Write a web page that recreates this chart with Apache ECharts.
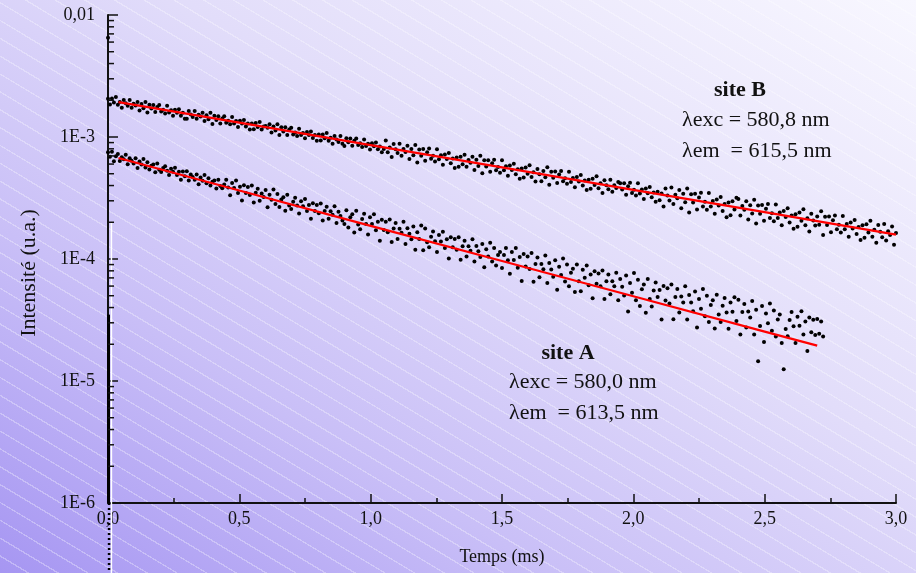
<!DOCTYPE html>
<html><head><meta charset="utf-8">
<script src="https://cdn.jsdelivr.net/npm/echarts@6/dist/echarts.min.js"></script>
<style>
html,body{margin:0;padding:0;width:916px;height:573px;overflow:hidden;}
body{background:
 repeating-linear-gradient(31deg, rgba(255,255,255,0) 0px, rgba(255,255,255,0) 14px, rgba(255,255,255,0.3) 14px, rgba(255,255,255,0.3) 15.3px),
 linear-gradient(to bottom left, #f8f7ff 0%, #e2ddfa 40%, #c9bff7 70%, #a696f2 100%);}
#chart{width:916px;height:573px;}
</style></head>
<body><div id="chart"></div>
<script>
// sampling step of the decays (ms)
const DT = 0.0075;
// site B intensities, t = 0, DT, 2DT ... 3.0 ms
const siteB = [
2.06e-3,1.85e-3,2.07e-3,1.92e-3,2.13e-3,1.84e-3,1.94e-3,1.74e-3,2.01e-3,1.89e-3,1.80e-3,2.01e-3,1.74e-3,1.87e-3,1.81e-3,1.94e-3,1.65e-3,1.86e-3,1.72e-3,1.94e-3,
1.59e-3,1.84e-3,1.71e-3,1.83e-3,1.60e-3,1.76e-3,1.83e-3,1.62e-3,1.67e-3,1.56e-3,1.80e-3,1.59e-3,1.66e-3,1.49e-3,1.67e-3,1.58e-3,1.69e-3,1.49e-3,1.58e-3,1.41e-3,
1.41e-3,1.63e-3,1.53e-3,1.46e-3,1.63e-3,1.41e-3,1.52e-3,1.47e-3,1.58e-3,1.35e-3,1.51e-3,1.40e-3,1.58e-3,1.28e-3,1.49e-3,1.38e-3,1.48e-3,1.29e-3,1.42e-3,1.48e-3,
1.31e-3,1.36e-3,1.27e-3,1.46e-3,1.29e-3,1.35e-3,1.21e-3,1.36e-3,1.29e-3,1.38e-3,1.22e-3,1.29e-3,1.15e-3,1.29e-3,1.16e-3,1.30e-3,1.21e-3,1.33e-3,1.15e-3,1.22e-3,
1.23e-3,1.19e-3,1.27e-3,1.09e-3,1.22e-3,1.13e-3,1.27e-3,1.04e-3,1.20e-3,1.11e-3,1.20e-3,1.04e-3,1.15e-3,1.19e-3,1.05e-3,1.09e-3,1.02e-3,1.17e-3,1.04e-3,1.08e-3,
9.77e-4,1.10e-3,1.04e-3,1.11e-3,9.83e-4,1.04e-3,9.30e-4,1.05e-3,9.37e-4,1.05e-3,9.75e-4,1.08e-3,9.33e-4,9.85e-4,8.81e-4,1.02e-3,9.55e-4,9.10e-4,1.02e-3,8.79e-4,
8.42e-4,9.75e-4,9.05e-4,9.72e-4,8.47e-4,9.33e-4,9.72e-4,8.58e-4,8.88e-4,8.29e-4,9.55e-4,8.44e-4,8.81e-4,7.89e-4,8.87e-4,8.39e-4,9.00e-4,7.93e-4,8.37e-4,7.49e-4,
7.98e-4,9.37e-4,7.49e-4,8.21e-4,6.87e-4,8.75e-4,7.93e-4,7.38e-4,8.82e-4,7.02e-4,7.97e-4,7.55e-4,8.47e-4,6.59e-4,7.99e-4,7.10e-4,8.60e-4,6.18e-4,7.89e-4,7.02e-4,
7.96e-4,6.40e-4,7.51e-4,8.03e-4,6.63e-4,7.03e-4,6.31e-4,7.94e-4,6.56e-4,7.07e-4,5.93e-4,7.18e-4,6.60e-4,7.41e-4,6.09e-4,6.68e-4,5.58e-4,6.79e-4,5.71e-4,6.90e-4,
5.99e-4,7.17e-4,5.71e-4,6.48e-4,6.14e-4,6.89e-4,5.37e-4,6.51e-4,5.79e-4,7.01e-4,5.04e-4,6.44e-4,5.73e-4,6.44e-4,5.19e-4,6.08e-4,6.50e-4,5.35e-4,5.68e-4,5.10e-4,
6.45e-4,5.33e-4,5.75e-4,4.82e-4,5.85e-4,5.37e-4,6.03e-4,4.96e-4,5.44e-4,4.55e-4,5.53e-4,4.65e-4,5.63e-4,5.00e-4,5.88e-4,4.69e-4,5.14e-4,4.31e-4,5.47e-4,4.96e-4,
4.33e-4,5.26e-4,4.67e-4,5.66e-4,4.07e-4,5.19e-4,4.63e-4,5.21e-4,4.19e-4,4.92e-4,5.26e-4,4.33e-4,4.60e-4,4.13e-4,5.19e-4,4.28e-4,4.61e-4,3.87e-4,4.69e-4,4.31e-4,
4.87e-4,4.00e-4,4.39e-4,3.68e-4,4.47e-4,3.77e-4,4.55e-4,4.05e-4,4.76e-4,3.80e-4,4.17e-4,3.48e-4,4.43e-4,4.02e-4,3.73e-4,4.47e-4,3.55e-4,4.03e-4,3.82e-4,4.28e-4,
4.17e-4,3.72e-4,4.18e-4,3.37e-4,3.94e-4,4.22e-4,3.48e-4,3.69e-4,3.32e-4,4.17e-4,3.45e-4,3.72e-4,3.11e-4,3.78e-4,3.46e-4,3.89e-4,3.20e-4,3.51e-4,2.94e-4,3.56e-4,
3.03e-4,3.45e-4,2.69e-4,3.78e-4,3.32e-4,3.01e-4,3.85e-4,2.82e-4,3.37e-4,3.14e-4,3.68e-4,2.61e-4,3.43e-4,2.92e-4,3.79e-4,2.40e-4,3.40e-4,2.91e-4,3.42e-4,2.54e-4,
3.19e-4,3.49e-4,2.69e-4,2.94e-4,2.53e-4,3.47e-4,2.69e-4,2.99e-4,2.35e-4,3.08e-4,2.75e-4,3.22e-4,2.47e-4,2.82e-4,2.20e-4,2.90e-4,2.28e-4,2.97e-4,2.55e-4,3.17e-4,
3.10e-4,2.27e-4,2.72e-4,2.53e-4,2.98e-4,2.11e-4,2.76e-4,2.36e-4,3.06e-4,1.95e-4,2.75e-4,2.35e-4,2.77e-4,2.06e-4,2.58e-4,2.82e-4,2.17e-4,2.37e-4,2.04e-4,2.80e-4,
2.17e-4,2.41e-4,1.89e-4,2.48e-4,2.21e-4,2.60e-4,1.99e-4,2.27e-4,1.77e-4,2.33e-4,1.84e-4,2.41e-4,2.06e-4,2.56e-4,1.89e-4,2.16e-4,1.68e-4,2.35e-4,2.07e-4,1.88e-4,
2.23e-4,1.91e-4,2.46e-4,1.57e-4,2.22e-4,1.90e-4,2.23e-4,1.66e-4,2.08e-4,2.27e-4,1.75e-4,1.91e-4,1.65e-4,2.25e-4,1.75e-4,1.94e-4,1.52e-4,1.99e-4,1.78e-4,2.09e-4,
1.60e-4,1.83e-4,1.43e-4,1.89e-4,1.49e-4,1.93e-4,1.65e-4,2.06e-4,1.52e-4,1.74e-4,1.36e-4,1.90e-4,1.67e-4,1.51e-4,1.94e-4,1.42e-4,1.69e-4,1.57e-4,1.85e-4,1.31e-4,
1.63e-4
];
// site A intensities, t = 0, DT, 2DT ... 2.7225 ms
const siteA = [
7.51e-4,6.88e-4,7.58e-4,6.33e-4,6.96e-4,7.24e-4,6.35e-4,6.83e-4,6.56e-4,7.16e-4,5.99e-4,6.70e-4,6.38e-4,6.06e-4,6.69e-4,5.56e-4,6.30e-4,5.94e-4,6.59e-4,5.63e-4,
6.22e-4,5.41e-4,5.82e-4,5.94e-4,5.15e-4,6.06e-4,5.38e-4,5.17e-4,5.56e-4,5.77e-4,5.29e-4,4.87e-4,5.50e-4,5.18e-4,5.59e-4,4.88e-4,5.18e-4,4.47e-4,5.22e-4,4.77e-4,
5.25e-4,4.40e-4,4.92e-4,4.69e-4,4.46e-4,4.92e-4,4.10e-4,4.66e-4,4.38e-4,4.87e-4,4.17e-4,4.60e-4,4.00e-4,4.30e-4,4.39e-4,3.79e-4,4.46e-4,3.97e-4,3.80e-4,4.08e-4,
4.46e-4,3.85e-4,3.33e-4,4.20e-4,3.82e-4,4.39e-4,3.48e-4,3.91e-4,3.02e-4,4.03e-4,3.48e-4,3.89e-4,3.35e-4,4.00e-4,2.90e-4,3.49e-4,3.76e-4,3.00e-4,3.44e-4,3.23e-4,
3.67e-4,2.65e-4,3.37e-4,3.06e-4,3.71e-4,2.83e-4,3.41e-4,2.67e-4,3.07e-4,3.21e-4,2.49e-4,3.36e-4,2.75e-4,2.57e-4,2.95e-4,3.18e-4,2.74e-4,2.36e-4,2.98e-4,2.70e-4,
3.11e-4,2.47e-4,2.77e-4,2.14e-4,2.86e-4,2.47e-4,2.77e-4,2.37e-4,2.85e-4,2.07e-4,2.48e-4,2.68e-4,2.14e-4,2.46e-4,2.31e-4,2.70e-4,1.97e-4,2.44e-4,2.25e-4,2.07e-4,
1.94e-4,2.51e-4,1.81e-4,2.20e-4,2.33e-4,1.65e-4,2.49e-4,1.92e-4,1.75e-4,2.13e-4,2.35e-4,1.94e-4,1.59e-4,2.20e-4,1.94e-4,2.33e-4,1.72e-4,2.02e-4,1.41e-4,2.10e-4,
1.73e-4,2.02e-4,1.66e-4,2.11e-4,1.38e-4,1.78e-4,1.97e-4,1.46e-4,1.77e-4,1.64e-4,2.02e-4,1.33e-4,1.79e-4,1.61e-4,1.45e-4,1.85e-4,1.19e-4,1.66e-4,1.46e-4,1.88e-4,
1.18e-4,1.78e-4,1.37e-4,1.25e-4,1.52e-4,1.68e-4,1.40e-4,1.14e-4,1.57e-4,1.39e-4,1.67e-4,1.23e-4,1.45e-4,1.01e-4,1.51e-4,1.25e-4,1.46e-4,1.19e-4,1.51e-4,9.88e-5,
1.27e-4,1.41e-4,1.05e-4,1.27e-4,1.17e-4,1.45e-4,9.53e-5,1.28e-4,1.16e-4,1.04e-4,1.33e-4,8.56e-5,1.20e-4,1.05e-4,1.36e-4,9.53e-5,1.23e-4,8.84e-5,1.08e-4,1.14e-4,
8.45e-5,1.08e-4,1.23e-4,9.75e-5,7.57e-5,1.14e-4,9.79e-5,1.23e-4,8.46e-5,1.04e-4,6.61e-5,1.10e-4,8.70e-5,1.05e-4,8.27e-5,1.12e-4,6.50e-5,9.08e-5,1.03e-4,7.09e-5,
9.08e-5,8.25e-5,1.07e-4,6.35e-5,9.27e-5,8.21e-5,7.16e-5,9.76e-5,5.60e-5,8.64e-5,7.38e-5,1.01e-4,6.55e-5,9.02e-5,5.98e-5,7.73e-5,8.31e-5,5.37e-5,9.03e-5,6.56e-5,
5.43e-5,8.15e-5,7.03e-5,8.85e-5,6.09e-5,7.48e-5,4.76e-5,7.95e-5,6.28e-5,7.61e-5,5.97e-5,8.06e-5,4.71e-5,6.58e-5,7.47e-5,5.14e-5,6.58e-5,5.97e-5,7.73e-5,4.58e-5,
6.84e-5,5.93e-5,5.03e-5,7.31e-5,3.71e-5,6.36e-5,5.28e-5,7.67e-5,4.59e-5,6.75e-5,4.11e-5,5.65e-5,6.18e-5,3.62e-5,6.84e-5,4.69e-5,4.08e-5,5.53e-5,6.41e-5,4.89e-5,
5.57e-5,3.19e-5,6.02e-5,4.56e-5,5.75e-5,4.31e-5,6.17e-5,3.21e-5,4.88e-5,5.69e-5,3.64e-5,4.93e-5,4.40e-5,5.98e-5,3.19e-5,5.08e-5,4.40e-5,3.73e-5,5.41e-5,2.74e-5,
4.70e-5,3.91e-5,5.68e-5,3.39e-5,5.00e-5,3.05e-5,4.20e-5,4.59e-5,2.69e-5,5.09e-5,3.50e-5,3.05e-5,4.13e-5,4.78e-5,3.65e-5,2.68e-5,4.39e-5,3.69e-5,4.85e-5,3.11e-5,
4.64e-5,2.41e-5,3.68e-5,4.28e-5,2.74e-5,3.72e-5,3.32e-5,4.53e-5,2.41e-5,3.84e-5,1.45e-5,2.83e-5,4.11e-5,2.09e-5,3.58e-5,2.97e-5,4.32e-5,2.58e-5,3.79e-5,2.32e-5,
3.19e-5,3.50e-5,2.05e-5,1.25e-5,2.67e-5,2.33e-5,3.16e-5,3.67e-5,2.81e-5,2.05e-5,3.37e-5,2.84e-5,3.73e-5,2.40e-5,3.08e-5,1.76e-5,3.32e-5,2.51e-5,3.17e-5,2.38e-5,
3.22e-5,2.44e-5,3.08e-5,2.32e-5
];
// exponential fits (red)
const fitB = [[0.04,1.93e-3],[0.5,1.31e-3],[1.0,8.59e-4],[1.5,5.63e-4],[2.0,3.69e-4],[2.5,2.42e-4],[3.0,1.585e-4]];
const fitA = [[0.04,6.72e-4],[0.5,3.64e-4],[1.0,1.87e-4],[1.5,9.62e-5],[2.0,4.95e-5],[2.5,2.54e-5],[2.7,1.95e-5]];
// excitation pulse artefact at t = 0
const pulsePoint = [[0, 6.5e-3]];
const pulseBlack = [[0.002, 3.5e-5],[0.002, 1e-6]];
const pulseDots = [[0.004, 1e-6],[0.004, 2.6e-7]];
const pulseWhite = [[0.013, 2.0e-4],[0.013, 2.6e-7]];
// axes
const yTickLabels = {'-6':'1E-6','-5':'1E-5','-4':'1E-4','-3':'1E-3','-2':'0,01'};
const yMinorTicks = [2e-6,3e-6,4e-6,5e-6,6e-6,7e-6,8e-6,9e-6,2e-5,3e-5,4e-5,5e-5,6e-5,7e-5,8e-5,9e-5,
  2e-4,3e-4,4e-4,5e-4,6e-4,7e-4,8e-4,9e-4,2e-3,3e-3,4e-3,5e-3,6e-3,7e-3,8e-3,9e-3];

const FONT = "'Liberation Serif','Times New Roman',serif";
const toPairs = arr => arr.map((v,i)=>[+(i*DT).toFixed(4), v]);

const chart = echarts.init(document.getElementById('chart'), null, {renderer:'canvas'});
const axisCol = '#111';
const dotStyle = {color:'#000', opacity:1};
chart.setOption({
  backgroundColor: 'transparent',
  animation: false,
  grid: {left:108, right:20, top:15, bottom:70, outerBoundsMode:'none'},
  xAxis: {
    type:'value', min:0, max:3, interval:0.5,
    axisLine:{show:true, onZero:false, lineStyle:{color:axisCol, width:2}},
    axisTick:{show:true, inside:true, length:9, lineStyle:{color:axisCol, width:1.5}},
    minorTick:{show:true, splitNumber:2, length:5, lineStyle:{color:axisCol, width:1.5}},
    splitLine:{show:false},
    axisLabel:{color:'#111', fontFamily:FONT, fontSize:18, margin:7,
      formatter: v => v.toFixed(1).replace('.', ',')},
    name:'Temps (ms)', nameLocation:'middle', nameGap:45,
    nameTextStyle:{color:'#111', fontFamily:FONT, fontSize:18}
  },
  yAxis: {
    type:'log', logBase:10, min:1e-6, max:1e-2,
    axisLine:{show:true, lineStyle:{color:axisCol, width:2}},
    axisTick:{show:true, inside:true, length:10, lineStyle:{color:axisCol, width:1.5}},
    splitLine:{show:false},
    axisLabel:{color:'#111', fontFamily:FONT, fontSize:18, margin:13,
      formatter: v => yTickLabels[String(Math.round(Math.log10(v)))] || ''}
  },
  graphic: [
    {type:'text', x:29, y:273, rotation:Math.PI/2, style:{text:'Intensité (u.a.)', font:'22px '+FONT, fill:'#111', align:'center', verticalAlign:'middle'}},
    {type:'text', x:740, y:90, style:{text:'site B', font:'bold 22px '+FONT, fill:'#111', align:'center', verticalAlign:'middle'}},
    {type:'text', x:682, y:120, style:{text:'λexc = 580,8 nm', font:'22px '+FONT, fill:'#111', align:'left', verticalAlign:'middle'}},
    {type:'text', x:682, y:151, style:{text:'λem  = 615,5 nm', font:'22px '+FONT, fill:'#111', align:'left', verticalAlign:'middle'}},
    {type:'text', x:568, y:353, style:{text:'site A', font:'bold 22px '+FONT, fill:'#111', align:'center', verticalAlign:'middle'}},
    {type:'text', x:509, y:382, style:{text:'λexc = 580,0 nm', font:'22px '+FONT, fill:'#111', align:'left', verticalAlign:'middle'}},
    {type:'text', x:509, y:413, style:{text:'λem  = 613,5 nm', font:'22px '+FONT, fill:'#111', align:'left', verticalAlign:'middle'}}
  ],
  series: [
    {type:'line', data:pulseWhite, clip:false, symbol:'none', lineStyle:{color:'#ffffff', width:1.5}, z:1},
    {type:'line', data:pulseBlack, clip:false, symbol:'none', lineStyle:{color:'#000', width:3}, z:3},
    {type:'line', data:pulseDots, clip:false, symbol:'none', lineStyle:{color:'#000', width:2.5, type:[2,3]}, z:3},
    {type:'scatter', data:pulsePoint, clip:false, symbol:'circle', symbolSize:4, itemStyle:dotStyle},
    {type:'scatter', data:toPairs(siteB), symbol:'circle', symbolSize:4, itemStyle:dotStyle, z:2},
    {type:'scatter', data:toPairs(siteA), symbol:'circle', symbolSize:4, itemStyle:dotStyle, z:2},
    {type:'line', data:fitB, symbol:'none', lineStyle:{color:'#ff0000', width:2.2}, z:4},
    {type:'line', data:fitA, symbol:'none', lineStyle:{color:'#ff0000', width:2.2}, z:4},
    {type:'custom', data:yMinorTicks.map(v=>[0,v]), clip:false, silent:true, z:5,
      renderItem:(params, api)=>{
        const c = api.coord([0, api.value(1)]);
        return {type:'line', shape:{x1:c[0], y1:c[1], x2:c[0]+6, y2:c[1]}, style:{stroke:axisCol, lineWidth:1.5}};
      }}
  ]
});
</script>
</body></html>
